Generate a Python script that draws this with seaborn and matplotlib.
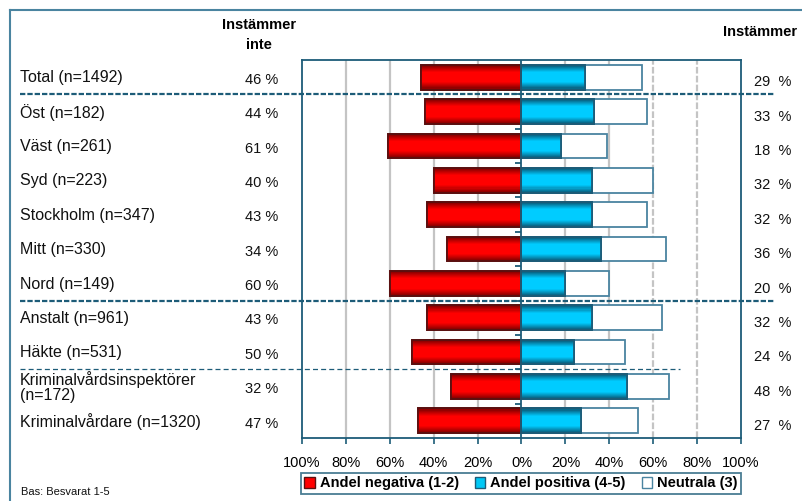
import numpy as np
import pandas as pd
import matplotlib
matplotlib.use("Agg")
import matplotlib.pyplot as plt
import seaborn as sns
from matplotlib.transforms import blended_transform_factory
from matplotlib.patches import Rectangle, Patch
from matplotlib.collections import PatchCollection
from matplotlib.lines import Line2D

# ---------------- data ----------------
categories = ["Total (n=1492)", "Öst (n=182)", "Väst (n=261)", "Syd (n=223)",
              "Stockholm (n=347)", "Mitt (n=330)", "Nord (n=149)",
              "Anstalt (n=961)", "Häkte (n=531)",
              "Kriminalvårdsinspektörer\n(n=172)", "Kriminalvårdare (n=1320)"]
negativa = [46, 44, 61, 40, 43, 34, 60, 43, 50, 32, 47]
positiva = [29, 33, 18, 32, 32, 36, 20, 32, 24, 48, 27]
neutrala = [26, 24, 21, 28, 25, 30, 20, 32, 23, 19, 26]
left_labels = ["46 %", "44 %", "61 %", "40 %", "43 %", "34 %", "60 %", "43 %", "50 %", "32 %", "47 %"]
right_labels = ["29  %", "33  %", "18  %", "32  %", "32  %", "36  %", "20  %", "32  %", "24  %", "48  %", "27  %"]
tick_values = [-100, -80, -60, -40, -20, 0, 20, 40, 60, 80, 100]
tick_labels = ["100%", "80%", "60%", "40%", "20%", "0%", "20%", "40%", "60%", "80%", "100%"]
legend_labels = ["Andel negativa (1-2)", "Andel positiva (4-5)", "Neutrala (3)"]

df = pd.DataFrame({
    "kategori": categories,
    "neg": [-v for v in negativa],
    "pos": positiva,
    "pos_neu": [p + n for p, n in zip(positiva, neutrala)],
})

# ---------------- style ----------------
plt.rcParams["font.family"] = ["Liberation Sans", "DejaVu Sans"]
EDGE = "#1d5c78"
FRAME = "#4a84a0"
W, H = 803, 501

fig = plt.figure(figsize=(W / 100, H / 100), dpi=100)
ax = fig.add_axes([302 / W, 1 - 438 / H, (741 - 302) / W, (438 - 60) / H])

# grid lines
for v in [-80, -60, -40, -20, 20, 40]:
    ax.axvline(v, color="#c4c4c4", lw=1.6, zorder=0)
for v in [60, 80]:
    ax.axvline(v, color="#c4c4c4", lw=1.6, ls=(0, (3, 1)), zorder=0)

bw = 0.72
sns.barplot(data=df, x="pos_neu", y="kategori", orient="h", color="white",
            edgecolor=FRAME, linewidth=1.3, width=bw, saturation=1, ax=ax, zorder=2)
sns.barplot(data=df, x="pos", y="kategori", orient="h", color="#00c8f5",
            edgecolor=EDGE, linewidth=1.3, width=bw, saturation=1, ax=ax, zorder=3)
sns.barplot(data=df, x="neg", y="kategori", orient="h", color="#ff0000",
            edgecolor="#5a1010", linewidth=1.3, width=bw, saturation=1, ax=ax, zorder=3)

# gradient fills (horizontal stripes) over the coloured bars
NS = 24
t = (np.arange(NS) + 0.5) / NS
f = np.clip((1 - np.abs(2 * t - 1)) / 0.6, 0, 1) ** 0.9


def grad(dark, bright):
    d = np.array(matplotlib.colors.to_rgb(dark))
    b = np.array(matplotlib.colors.to_rgb(bright))
    return d[None, :] + (b - d)[None, :] * f[:, None]


grads = {1: (grad("#0a4a66", "#00ccff"), EDGE), 2: (grad("#700000", "#ff0000"), "#5a1010")}
for ci, (cols, ec) in grads.items():
    stripes, scol = [], []
    for p in ax.containers[ci]:
        x0, y0 = p.get_x(), p.get_y()
        w, h = p.get_width(), p.get_height()
        for k in range(NS):
            stripes.append(Rectangle((x0, y0 + k * h / NS), w, h / NS * 1.05))
            scol.append(cols[k])
    pc = PatchCollection(stripes, facecolors=scol, edgecolors="none", linewidths=0,
                         zorder=3.5)
    ax.add_collection(pc)
    for p in ax.containers[ci]:
        ax.add_patch(Rectangle((p.get_x(), p.get_y()), p.get_width(), p.get_height(),
                               fill=False, edgecolor=ec, lw=1.3, zorder=3.6))

n = len(categories)
ax.set_xlim(-100, 100)
ax.set_ylim(n - 0.5, -0.5)
ax.set_xticks(tick_values)
ax.set_xticklabels(tick_labels, fontsize=10.5)
ax.tick_params(axis="x", direction="out", length=4, color=EDGE, width=1.2, pad=9)
ax.set_yticks([])
ax.set_xlabel("")
ax.set_ylabel("")
for s in ax.spines.values():
    s.set_color(EDGE)
    s.set_linewidth(1.3)

# centre axis with small ticks between rows
ax.axvline(0, color=EDGE, lw=1.3, zorder=4)
ax.plot(np.zeros(n - 1), np.arange(n - 1) + 0.5, ls="", marker=0, ms=4,
        mew=1.3, color=EDGE, zorder=4)

# ---------------- texts ----------------
tr = blended_transform_factory(fig.transFigure, ax.transData)
for i, cat in enumerate(categories):
    ax.text(20 / W, i + 0.02, cat, transform=tr, ha="left", va="center",
            fontsize=11.5, color="#111111", linespacing=1.0)
    ax.text(262 / W, i + 0.08, left_labels[i], transform=tr, ha="center",
            va="center", fontsize=10.5, color="#111111")
    ax.text(773 / W, i + 0.15, right_labels[i], transform=tr, ha="center",
            va="center", fontsize=10.5, color="#111111")

fig.text(259 / W, 1 - 25 / H, "Instämmer", ha="center", va="center",
         fontsize=10.5, fontweight="bold")
fig.text(259 / W, 1 - 45 / H, "inte", ha="center", va="center",
         fontsize=10.5, fontweight="bold")
fig.text(760 / W, 1 - 32 / H, "Instämmer", ha="center", va="center",
         fontsize=10.5, fontweight="bold")
fig.text(21 / W, 1 - 492 / H, "Bas: Besvarat 1-5", ha="left", va="center",
         fontsize=8, color="#111111")

# separators
ax.plot([20 / W, 775 / W], [0.5, 0.5], transform=tr, clip_on=False, color=EDGE,
        lw=1.6, ls=(0, (2.4, 0.9)), zorder=5)
ax.plot([20 / W, 775 / W], [6.5, 6.5], transform=tr, clip_on=False, color=EDGE,
        lw=1.6, ls=(0, (2.4, 0.9)), zorder=5)
ax.plot([20 / W, 680 / W], [8.5, 8.5], transform=tr, clip_on=False, color=EDGE,
        lw=0.9, ls=(0, (4, 2.5)), zorder=5)

# outer frame (top and left edges only visible)
fig.add_artist(Line2D([10 / W, 1.0], [1 - 10 / H, 1 - 10 / H], transform=fig.transFigure,
                      color=FRAME, lw=1.5))
fig.add_artist(Line2D([10 / W, 10 / W], [0.0, 1 - 10 / H], transform=fig.transFigure,
                      color=FRAME, lw=1.5))

# legend
handles = [Patch(facecolor="#ff0000", edgecolor="#5a1010"),
           Patch(facecolor="#00c8f5", edgecolor=EDGE),
           Patch(facecolor="white", edgecolor=FRAME)]
leg = fig.legend(handles, legend_labels, loc="center",
                 bbox_to_anchor=((299 + 743) / 2 / W, 1 - 483.5 / H), ncol=3,
                 frameon=True, fancybox=False, edgecolor=EDGE,
                 prop={"weight": "bold", "size": 10.5}, handlelength=0.7,
                 handleheight=0.7, handletextpad=0.35, columnspacing=1.1,
                 borderpad=0.25, borderaxespad=0)
leg.get_frame().set_linewidth(1.3)

fig.savefig("out.png", dpi=100)
